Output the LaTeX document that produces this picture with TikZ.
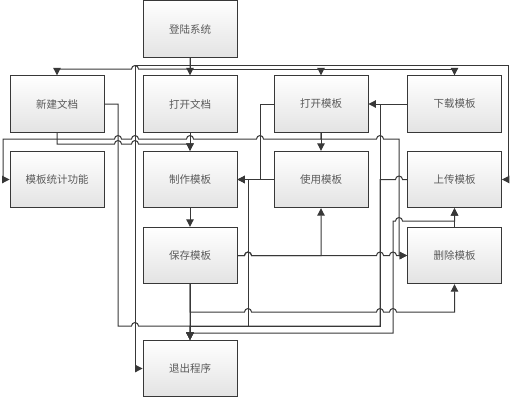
\documentclass[tikz,border=0pt]{standalone}
\usepackage{fontspec}
\newfontfamily\cjk{Noto Sans CJK SC}
\usetikzlibrary{arrows.meta}
\definecolor{ln}{HTML}{383838}
\definecolor{tx}{HTML}{5A5A5A}
\newcommand\hr[2]{-- ({#1-3.5},#2) arc[start angle=180,end angle=0,radius=3.5pt]}
\newcommand\hl[2]{-- ({#1+3.5},#2) arc[start angle=0,end angle=180,radius=3.5pt]}
\tikzset{
  box/.style={draw=ln, line width=0.9pt, top color=white, bottom color=gray!22,
    minimum width=94pt, minimum height=56.5pt, inner sep=0pt,
    font=\cjk\fontsize{10.5}{12}\selectfont, text=tx},
  arr/.style={draw=ln, line width=1pt, -{Triangle[length=7.5pt,width=7.5pt]}}
}
\begin{document}
\begin{tikzpicture}[x=1pt,y=1pt]
\useasboundingbox (0,0) rectangle (511,-400);
\node[box] (login) at (190,-29) {登陆系统};
\node[box] (xinjian) at (57,-104) {新建文档};
\node[box] (dakaiwd) at (190,-104) {打开文档};
\node[box] (dakaimb) at (321,-104) {打开模板};
\node[box] (xiazai) at (454.5,-104) {下载模板};
\node[box] (tongji) at (57,-179.5) {模板统计功能};
\node[box] (zhizuo) at (190,-179.5) {制作模板};
\node[box] (shiyong) at (321,-179.5) {使用模板};
\node[box] (shangchuan) at (454.5,-179.5) {上传模板};
\node[box] (baocun) at (190,-255.5) {保存模板};
\node[box] (shanchu) at (454.5,-255.5) {删除模板};
\node[box] (tuichu) at (190,-368.5) {退出程序};
% from login
\draw[arr] (login.south) -- (dakaiwd.north);
\draw[arr] (login.south) -- (190,-69) \hl{135}{-69} -- (57,-69) -- (xinjian.north);
\draw[arr] (login.south) -- (190,-69) -| (dakaimb.north);
\draw[arr] (login.south) -- (190,-69) -| (xiazai.north);
\draw[arr] (login.south) -- (190,-65) -- (508,-65) |- (shangchuan.east);
\draw[arr] (login.south) -- (190,-65) -- (135,-65) |- (tuichu.west);
% row 1
\draw[arr] (xinjian.south) -- (57,-144) \hr{118}{-144} \hr{135}{-144} -- (190,-144) -- (zhizuo.north);
\draw[arr] (dakaiwd.south) -- (zhizuo.north);
\draw[arr] (dakaimb.south) -- (321,-139) \hl{260}{-139} \hl{190}{-139} \hl{135}{-139} \hl{118}{-139} -- (3,-139) |- (tongji.west);
\draw[arr] (dakaimb.south) -- (321,-139) \hr{380}{-139} -- (399,-139) |- (shanchu.west);
\draw[arr] (dakaimb.west) -- (260,-104) |- (zhizuo.east);
\draw[arr] (shiyong.west) -- (zhizuo.east);
\draw[arr] (xiazai.west) -- (dakaimb.east);
\draw[arr] (dakaimb.south) -- (shiyong.north);
\draw[arr] (zhizuo.south) -- (baocun.north);
% from baocun
\draw[arr] (baocun.east) \hr{248}{-255.5} -- (321,-255.5) -- (shiyong.south);
\draw[arr] (baocun.east) \hr{248}{-255.5} \hr{380}{-255.5} \hr{393}{-255.5} -- (shanchu.west);
\draw[arr] (baocun.south) -- (tuichu.north);
\draw[arr] (baocun.south) -- (190,-312) \hr{248}{-312} \hr{380}{-312} \hr{393}{-312} -- (454.5,-312) -- (shanchu.south);
\draw[arr] (baocun.south) -- (190,-333) -- (393,-333) -- (393,-221) \hr{399}{-221} -- (454.5,-221) -- (shangchuan.south);
\draw[arr] (shanchu.north) -- (shangchuan.south);
% to tuichu
\draw[arr] (xinjian.east) -- (118,-104) -- (118,-326) \hr{135}{-326} -- (190,-326) -- (tuichu.north);
\draw[arr] (xiazai.west) -- (380,-104) -- (380,-326) -- (190,-326) -- (tuichu.north);
\draw[arr] (shangchuan.west) \hl{399}{-179.5} -- (380,-179.5) -- (380,-326) -- (190,-326) -- (tuichu.north);
\draw[arr] (shiyong.west) -- (248,-179.5) -- (248,-326) -- (190,-326) -- (tuichu.north);
\end{tikzpicture}
\end{document}
